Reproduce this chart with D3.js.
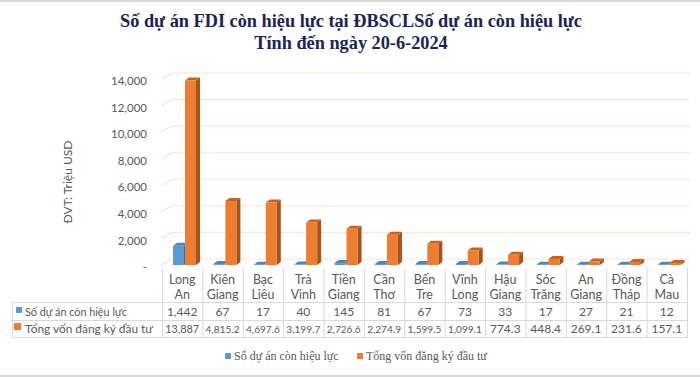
<!DOCTYPE html>
<html><head><meta charset="utf-8">
<script src="https://cdn.jsdelivr.net/npm/d3@7/dist/d3.min.js"></script>
<style>body{margin:0;background:#fff}svg{display:block}</style>
</head><body>
<svg id="c" width="700" height="377"></svg>
<script>
const categories = ["Long An","Kiên Giang","Bạc Liêu","Trà Vinh","Tiền Giang","Cần Thơ","Bến Tre","Vĩnh Long","Hậu Giang","Sóc Trăng","An Giang","Đồng Tháp","Cà Mau"];
const projects = [1442,67,17,40,145,81,67,73,33,17,27,21,12];
const capital = [13887,4815.2,4697.6,3199.7,2726.6,2274.9,1599.5,1099.1,774.3,448.4,269.1,231.6,157.1];
const seriesNames = ["Số dự án còn hiệu lực","Tổng vốn đăng ký đầu tư"];
const yTicks = [0,2000,4000,6000,8000,10000,12000,14000];
const titleLines = ["Số dự án FDI còn hiệu lực tại ĐBSCLSố dự án còn hiệu lực","Tính đến ngày 20-6-2024"];
const yTitle = "ĐVT: Triệu USD";

const svg = d3.select("#c");
const sans = "Lato,'Open Sans',sans-serif";
const serif = "'Liberation Serif','Times New Roman',serif";
const gray = "#595959";

function fit(sel, maxW, size){
  sel.each(function(){
    const w = this.getComputedTextLength();
    if (w > maxW) d3.select(this).attr("font-size", (size*maxW/w).toFixed(2)+"px");
  });
}

svg.append("rect").attr("x",0).attr("y",0).attr("width",700).attr("height",2).attr("fill","#d9d9d9");
svg.append("rect").attr("x",0).attr("y",375).attr("width",700).attr("height",2).attr("fill","#d9d9d9");

svg.selectAll(".title").data(titleLines).enter().append("text")
  .attr("x",351).attr("y",(d,i)=>27+i*22).attr("text-anchor","middle")
  .attr("font-family",serif).attr("font-weight","bold").attr("font-size","18.3px")
  .attr("fill","#1a2555").text(d=>d);

const x = d3.scaleBand().domain(categories).range([162,687]).padding(0);
const y = d3.scaleLinear().domain([0,14000]).range([265,79]);
const wallDx = 11, wallDy = -6;

const grid = svg.append("g");
yTicks.forEach(t=>{
  const yy = y(t);
  grid.append("line").attr("x1",161).attr("y1",yy).attr("x2",161+wallDx).attr("y2",yy+wallDy)
    .attr("stroke","#f8d9c6").attr("stroke-width",1);
  grid.append("line").attr("x1",161+wallDx).attr("y1",yy+wallDy).attr("x2",690).attr("y2",yy+wallDy)
    .attr("stroke","#fbe3d4").attr("stroke-width",1);
});

const ax = svg.append("g").attr("transform","translate(150,2)")
  .call(d3.axisLeft(y).tickValues(yTicks).tickSize(0).tickPadding(3)
    .tickFormat(d=>d===0?"-":d3.format(",")(d)));
ax.select(".domain").remove();
ax.selectAll("text").attr("font-family",sans).attr("font-size","11.5px").attr("fill",gray);

svg.append("text").attr("transform","translate(72,182) rotate(-90)").attr("text-anchor","middle")
  .attr("font-family",sans).attr("font-size","12px").attr("fill",gray).text(yTitle);

const bw = 11, dx = 4, dy = -3;
const series = [
  {vals:projects, off:11, front:"#5b9bd5", side:"#3a6fa3", top:"#4a86c0"},
  {vals:capital, off:23, front:"#ed7d31", side:"#a9521a", top:"#c8621f"}
];
const bars = svg.append("g");
series.forEach(s=>{
  categories.forEach((c,i)=>{
    const x0 = x(c)+s.off, yb = y(0), yt = y(s.vals[i]);
    bars.append("path").attr("d",`M${x0+bw},${yt} L${x0+bw+dx},${yt+dy} L${x0+bw+dx},${yb+dy} L${x0+bw},${yb} Z`).attr("fill",s.side);
    bars.append("path").attr("d",`M${x0},${yt} L${x0+dx},${yt+dy} L${x0+bw+dx},${yt+dy} L${x0+bw},${yt} Z`).attr("fill",s.top);
    bars.append("rect").attr("x",x0).attr("y",yt).attr("width",bw).attr("height",Math.max(0,yb-yt)).attr("fill",s.front);
  });
});

const tbl = svg.append("g");
const lineC = "#d9d9d9";
const rowTop = 302, rowMid = 320, rowBot = 337;
categories.forEach((c,i)=>{
  tbl.append("line").attr("x1",x(c)+0.5).attr("x2",x(c)+0.5).attr("y1",268).attr("y2",rowBot).attr("stroke",lineC);
});
tbl.append("line").attr("x1",687.5).attr("x2",687.5).attr("y1",268).attr("y2",rowBot).attr("stroke",lineC);
tbl.append("line").attr("x1",12.5).attr("x2",12.5).attr("y1",rowTop).attr("y2",rowBot).attr("stroke",lineC);
[rowTop,rowMid,rowBot].forEach(yy=>{
  tbl.append("line").attr("x1",12).attr("x2",688).attr("y1",yy+0.5).attr("y2",yy+0.5).attr("stroke",lineC);
});
categories.forEach(c=>{
  const parts = c.split(" ");
  const t = tbl.append("text").attr("text-anchor","middle").attr("font-family",sans).attr("font-size","12.5px").attr("fill",gray);
  parts.forEach((p,j)=>{
    t.append("tspan").attr("x",x(c)+x.bandwidth()/2).attr("y",284+j*15).text(p);
  });
});
const rows = [projects,capital];
const labelSize = [12.5,13.5];
const labelW = [102,128];
rows.forEach((vals,r)=>{
  const yy = r===0?316:333;
  tbl.append("rect").attr("x",r===0?16:14).attr("y",yy-(r===0?9:10)).attr("width",r===0?6:7).attr("height",r===0?6:7).attr("fill",series[r].front);
  tbl.append("text").attr("x",25).attr("y",yy).attr("font-family",sans).attr("font-size",labelSize[r]+"px").attr("fill",gray).text(seriesNames[r])
    .call(fit, labelW[r], labelSize[r]);
  categories.forEach((c,i)=>{
    tbl.append("text").attr("x",x(c)+x.bandwidth()/2).attr("y",yy).attr("text-anchor","middle")
      .attr("font-family",sans).attr("font-size","12px").attr("fill",gray).text(d3.format(",")(vals[i]))
      .call(fit, 34, 12);
  });
});

const leg = svg.append("g");
const legX = [225,357];
seriesNames.forEach((n,i)=>{
  leg.append("rect").attr("x",legX[i]).attr("y",353).attr("width",6).attr("height",6).attr("fill",series[i].front);
  leg.append("text").attr("x",legX[i]+9).attr("y",360).attr("font-family",serif).attr("font-size","12px").attr("fill",gray).text(n);
});
</script>
</body></html>
